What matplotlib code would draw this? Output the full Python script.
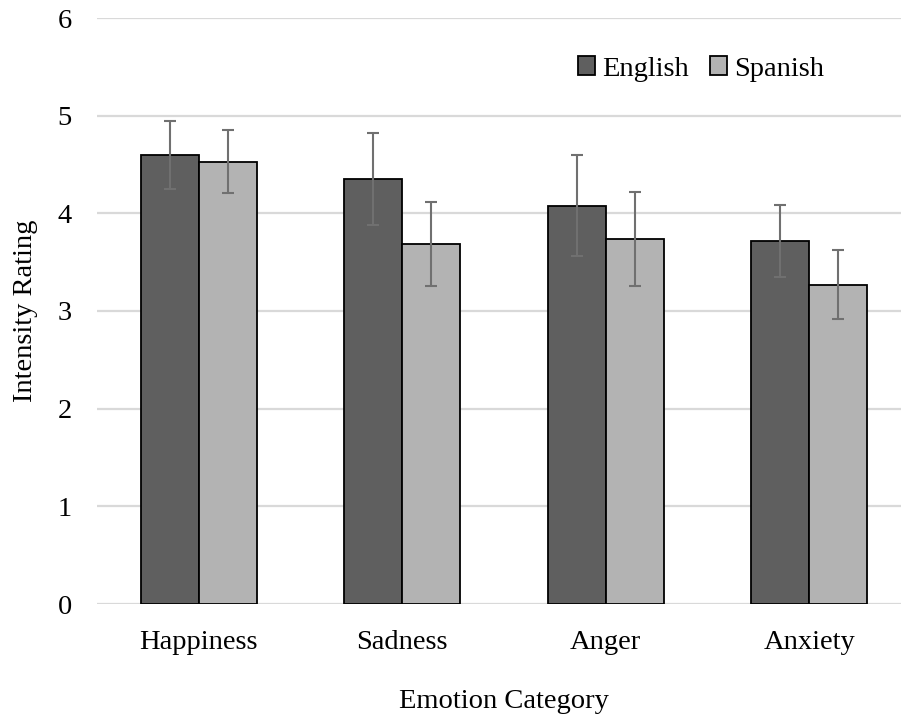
import matplotlib
matplotlib.use("Agg")
import matplotlib.pyplot as plt
import numpy as np

categories = ["Happiness", "Sadness", "Anger", "Anxiety"]
english = [4.60, 4.35, 4.08, 3.72]
spanish = [4.53, 3.69, 3.74, 3.27]
english_err = [0.35, 0.47, 0.52, 0.37]
spanish_err = [0.32, 0.43, 0.48, 0.35]
series_names = ["English", "Spanish"]
y_ticks = [0, 1, 2, 3, 4, 5, 6]

plt.rcParams['font.family'] = ['Liberation Serif', 'DejaVu Serif']

W, H = 901, 717
fig = plt.figure(figsize=(W / 100, H / 100), dpi=100)
ax = fig.add_axes([97 / W, (H - 604) / H, (911 - 97) / W, (604 - 18) / H])

x = np.arange(len(categories))
bw = 0.285
ekw = dict(ecolor="#707070", elinewidth=1.5, capsize=4.5, capthick=1.5, zorder=4)
ax.bar(x - bw / 2, english, bw, color="#5f5f5f", edgecolor="black", linewidth=1.3,
       label=series_names[0], zorder=3)
ax.bar(x + bw / 2, spanish, bw, color="#b3b3b3", edgecolor="black", linewidth=1.3,
       label=series_names[1], zorder=3)
ax.errorbar(x - bw / 2, english, yerr=english_err, fmt="none", **ekw)
ax.errorbar(x + bw / 2, spanish, yerr=spanish_err, fmt="none", **ekw)

ax.set_xlim(-0.5, len(categories) - 0.5)
ax.set_ylim(0, 6)
ax.set_yticks(y_ticks)
ax.set_xticks(x)
ax.set_xticklabels(categories)
ax.yaxis.grid(True, color="#d9d9d9", linewidth=1.6, zorder=0)
ax.set_axisbelow(True)
for s in ax.spines.values():
    s.set_visible(False)
ax.tick_params(axis="both", length=0, labelsize=20.5)
ax.tick_params(axis="y", pad=18)
ax.tick_params(axis="x", pad=19)

ax.set_ylabel("Intensity Rating", fontsize=20.5, labelpad=14)
ax.set_xlabel("Emotion Category", fontsize=20.5, labelpad=24)

ax.legend(loc="center", bbox_to_anchor=(701 / W, (H - 69) / H),
          bbox_transform=fig.transFigure, ncol=2, frameon=False, fontsize=20.5,
          handlelength=0.6, handleheight=0.6, handletextpad=0.25,
          columnspacing=0.75, borderpad=0)

fig.savefig("out.png", dpi=100)
